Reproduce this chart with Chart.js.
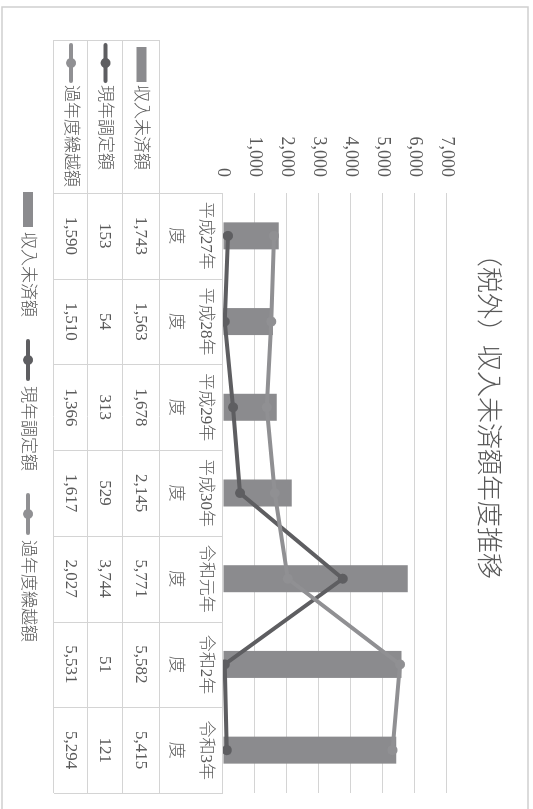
<!DOCTYPE html>
<html lang="ja">
<head>
<meta charset="utf-8">
<title>（税外）収入未済額年度推移</title>
<script src="https://cdn.jsdelivr.net/npm/chart.js@4.4.1/dist/chart.umd.min.js"></script>
<style>
  html, body { margin: 0; padding: 0; background: #fff; overflow: hidden; }
  body { width: 533px; height: 809px; position: relative; }
  /* chart is laid out landscape, then turned a quarter clockwise */
  #wrap {
    position: absolute; left: 533px; top: 0;
    width: 809px; height: 533px;
    transform-origin: 0 0; transform: rotate(90deg);
  }
</style>
</head>
<body>
<div id="wrap"><canvas id="chart" width="809" height="533"></canvas></div>
<script>
// ── Data ─────────────────────────────────────────────────────────────────
const titleText   = '（税外）収入未済額年度推移';
const categories  = ['平成27年度', '平成28年度', '平成29年度', '平成30年度', '令和元年度', '令和2年度', '令和3年度'];
const seriesNames = ['収入未済額', '現年調定額', '過年度繰越額'];
const unpaid      = [1743, 1563, 1678, 2145, 5771, 5582, 5415];   // 収入未済額
const currentYear = [153, 54, 313, 529, 3744, 51, 121];           // 現年調定額
const carriedOver = [1590, 1510, 1366, 1617, 2027, 5531, 5294];   // 過年度繰越額
const yTicks      = [0, 1000, 2000, 3000, 4000, 5000, 6000, 7000];

// ── Styles ───────────────────────────────────────────────────────────────
const TEXT   = '#595959';
const GRID   = '#d4d4d4';
const C_BAR  = '#8b8b8e';
const C_CUR  = '#5e5e61';
const C_OLD  = '#909093';
const FONT   = "'Liberation Serif', 'Noto Sans CJK JP', serif";

const fmt = v => v.toLocaleString('en-US');

// table rows (vertical positions in the unrotated frame)
const ROWS     = [310, 373, 410, 445, 479];
const KEY_LEFT = 40;

function drawKey(ctx, type, color, x, y, len) {
    ctx.save();
    if (type === 'bar') {
        ctx.fillStyle = color;
        ctx.fillRect(x, y - 5, len, 10);
    } else {
        ctx.strokeStyle = color;
        ctx.lineWidth = 4;
        ctx.lineCap = 'round';
        ctx.beginPath();
        ctx.moveTo(x + 2, y);
        ctx.lineTo(x + len - 2, y);
        ctx.stroke();
        ctx.fillStyle = color;
        ctx.beginPath();
        ctx.arc(x + len / 2, y, 5, 0, Math.PI * 2);
        ctx.fill();
    }
    ctx.restore();
}

const keys = [
    { type: 'bar',  color: C_BAR },
    { type: 'line', color: C_CUR },
    { type: 'line', color: C_OLD },
];
const rowValues = [unpaid, currentYear, carriedOver];

// ── Title, data table, legend, frame ─────────────────────────────────────
const extrasPlugin = {
    id: 'extras',
    afterDraw(chart) {
        const { ctx, scales: { x } } = chart;
        const n    = categories.length;
        const half = (x.right - x.left) / n / 2;

        ctx.save();

        // outer frame (right edge runs off the picture)
        ctx.strokeStyle = '#cfcfcf';
        ctx.lineWidth = 1.5;
        ctx.strokeRect(7, 5, 900, 526);

        // title
        ctx.fillStyle = TEXT;
        ctx.font = "300 26px 'Noto Sans CJK JP', sans-serif";
        ctx.textAlign = 'center';
        ctx.textBaseline = 'middle';
        ctx.fillText(titleText, 410, 43);

        // table grid
        ctx.strokeStyle = GRID;
        ctx.lineWidth = 1;
        ctx.beginPath();
        ctx.moveTo(x.left, ROWS[0] + 0.5);
        ctx.lineTo(x.right, ROWS[0] + 0.5);
        for (let r = 1; r < ROWS.length; r++) {
            ctx.moveTo(KEY_LEFT, ROWS[r] + 0.5);
            ctx.lineTo(x.right, ROWS[r] + 0.5);
        }
        ctx.moveTo(KEY_LEFT + 0.5, ROWS[1]);
        ctx.lineTo(KEY_LEFT + 0.5, ROWS[4]);
        for (let i = 0; i <= n; i++) {
            const px = Math.round(x.left + i * half * 2) + 0.5;
            ctx.moveTo(px, ROWS[0]);
            ctx.lineTo(px, ROWS[4]);
        }
        ctx.stroke();

        // category labels (two lines)
        ctx.fillStyle = TEXT;
        ctx.font = '300 17px ' + FONT;
        ctx.textAlign = 'center';
        categories.forEach((c, i) => {
            const cx = x.getPixelForValue(i);
            ctx.fillText(c.slice(0, -1), cx, 328);
            ctx.fillText(c.slice(-1), cx, 358);
        });

        // values
        rowValues.forEach((vals, r) => {
            const cy = (ROWS[r + 1] + ROWS[r + 2]) / 2;
            vals.forEach((v, i) => {
                ctx.fillText(fmt(v), x.getPixelForValue(i), cy + 1);
            });
        });

        // row keys
        ctx.textAlign = 'left';
        seriesNames.forEach((name, r) => {
            const cy = (ROWS[r + 1] + ROWS[r + 2]) / 2;
            const k = keys[r];
            if (k.type === 'bar') drawKey(ctx, 'bar', k.color, 47, cy, 35);
            else drawKey(ctx, 'line', k.color, 43, cy, 40);
            ctx.fillStyle = TEXT;
            ctx.fillText(name, 85, cy + 1);
        });

        // bottom legend
        const gap = 22;
        const items = seriesNames.map((name, r) => {
            const len = keys[r].type === 'bar' ? 35 : 42;
            return { name, k: keys[r], len, w: len + 5 + ctx.measureText(name).width };
        });
        const total = items.reduce((s, it) => s + it.w, 0) + gap * (items.length - 1);
        let lx = 417 - total / 2;
        const ly = 505;
        items.forEach(it => {
            drawKey(ctx, it.k.type, it.k.color, lx, ly, it.len);
            ctx.fillStyle = TEXT;
            ctx.fillText(it.name, lx + it.len + 5, ly + 1);
            lx += it.w + gap;
        });

        ctx.restore();
    },
};

// ── Chart ────────────────────────────────────────────────────────────────
Chart.defaults.font.family = FONT;
Chart.defaults.font.size = 17;
Chart.defaults.color = TEXT;

new Chart(document.getElementById('chart'), {
    type: 'bar',
    data: {
        labels: categories,
        datasets: [
            {
                type: 'bar',
                label: seriesNames[0],
                data: unpaid,
                backgroundColor: C_BAR,
                categoryPercentage: 1,
                barPercentage: 0.315,
                order: 3,
            },
            {
                type: 'line',
                label: seriesNames[1],
                data: currentYear,
                borderColor: C_CUR,
                backgroundColor: C_CUR,
                borderWidth: 4,
                pointRadius: 5,
                pointBorderWidth: 0,
                tension: 0,
                order: 2,
            },
            {
                type: 'line',
                label: seriesNames[2],
                data: carriedOver,
                borderColor: C_OLD,
                backgroundColor: C_OLD,
                borderWidth: 4,
                pointRadius: 5,
                pointBorderWidth: 0,
                tension: 0,
                order: 1,
            },
        ],
    },
    options: {
        responsive: false,
        animation: false,
        devicePixelRatio: 1,
        layout: { padding: { left: 0, right: 16, top: 86, bottom: 223 } },
        plugins: {
            legend: { display: false },
            title: { display: false },
            tooltip: { enabled: false },
        },
        scales: {
            x: { display: false, offset: true },
            y: {
                min: 0,
                max: 7000,
                afterFit: s => { s.width = 193; },
                afterBuildTicks: s => { s.ticks = yTicks.map(v => ({ value: v })); },
                border: { display: false },
                grid: { color: GRID, lineWidth: 1, drawTicks: false },
                ticks: {
                    padding: 16,
                    font: { size: 18, weight: 300 },
                    callback: v => fmt(v),
                },
            },
        },
    },
    plugins: [extrasPlugin],
});
</script>
</body>
</html>
